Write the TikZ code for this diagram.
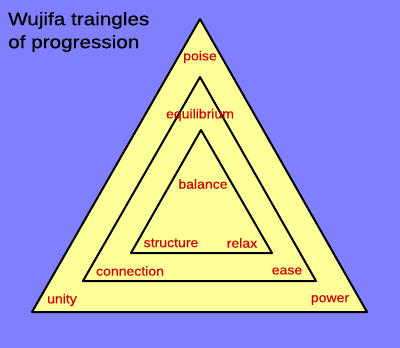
\documentclass[tikz,border=0pt]{standalone}
\usepackage{fontspec}
\setmainfont{Liberation Sans}
\newfontfamily\labelfont[FakeStretch=1.08,FakeBold=0.3]{Liberation Sans}
\newfontfamily\titlefont[FakeStretch=1.15,FakeBold=0.5]{Liberation Sans}
\definecolor{bgblue}{RGB}{128,128,255}
\definecolor{triyellow}{RGB}{255,255,153}
\definecolor{wordred}{RGB}{204,0,0}
\tikzset{
  tri/.style={draw=black, line width=2pt, fill=triyellow},
  word/.style={text=wordred, font=\labelfont\fontsize{13}{15}\selectfont, inner sep=0pt}
}
\begin{document}
\begin{tikzpicture}[x=1pt, y=-1pt, line join=round]
\fill[bgblue] (0,0) rectangle (400,348);
\useasboundingbox (0,0) rectangle (400,348);
\coordinate (OL) at (32,312);
\coordinate (OT) at (200,19);
\coordinate (OR) at (367,312);
\coordinate (ML) at (83,281);
\coordinate (MT) at (200,77);
\coordinate (MR) at (316,281);
\coordinate (IL) at (131,253);
\coordinate (IT) at (201,130);
\coordinate (IR) at (272,253);
\draw[tri] (OL) -- (OT) -- (OR) -- cycle;
\draw[tri] (ML) -- (MT) -- (MR) -- cycle;
\draw[tri] (IL) -- (IT) -- (IR) -- cycle;
\node[anchor=west, align=left, inner sep=0pt, font=\titlefont\fontsize{18}{23}\selectfont] (title) at (8,32) {Wujifa traingles\\of progression};
\node[word] (poise) at (200,57) {poise};
\node[word] (equilibrium) at (200,115) {equilibrium};
\node[word] (balance) at (203,184) {balance};
\node[word] (structure) at (171,243) {structure};
\node[word] (relax) at (242,243) {relax};
\node[word] (connection) at (130,271) {connection};
\node[word] (ease) at (287,271) {ease};
\node[word] (unity) at (62,300) {unity};
\node[word] (power) at (330,300) {power};
\end{tikzpicture}
\end{document}
